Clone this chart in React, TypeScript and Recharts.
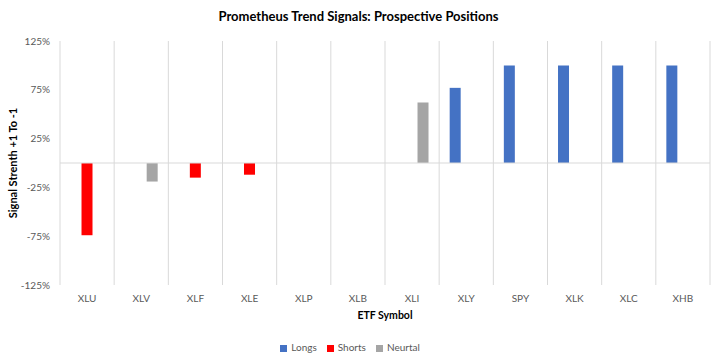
import React from 'react';
import {
  BarChart,
  Bar,
  XAxis,
  YAxis,
  CartesianGrid,
  ReferenceLine,
  Legend
} from 'recharts';

const categories = ['XLU', 'XLV', 'XLF', 'XLE', 'XLP', 'XLB', 'XLI', 'XLY', 'SPY', 'XLK', 'XLC', 'XHB'];
const longs = [null, null, null, null, null, null, null, 0.77, 1, 1, 1, 1];
const shorts = [-0.74, null, -0.15, -0.12, null, null, null, null, null, null, null, null];
const neutral = [null, -0.19, null, null, null, null, 0.62, null, null, null, null, null];
const yTicks = [-1.25, -0.75, -0.25, 0.25, 0.75, 1.25];

const FONT = 'Lato, "Open Sans", sans-serif';

export default function App() {
  const data = categories.map((name, i) => ({
    name,
    Longs: longs[i],
    Shorts: shorts[i],
    Neurtal: neutral[i]
  }));

  // grid lines sit on category boundaries, not centers
  const boundaries = ({ offset }: any) =>
    Array.from({ length: categories.length + 1 }, (_, i) => offset.left + (i * offset.width) / categories.length);

  const yLabel = (props: any) => {
    const vb = props.viewBox || {};
    const cx = 12;
    const cy = vb.y + vb.height / 2;
    return (
      <text
        x={cx}
        y={cy}
        transform={`rotate(-90, ${cx}, ${cy})`}
        textAnchor="middle"
        dominantBaseline="central"
        fontSize={11}
        fontWeight={700}
        fill="#000"
        fontFamily={FONT}
      >
        Signal Strenth +1 To -1
      </text>
    );
  };

  return (
    <div style={{ position: 'absolute', left: 0, top: 0, width: 717, height: 353, background: '#fff', fontFamily: FONT }}>
      <div
        style={{
          position: 'absolute',
          top: 8,
          left: 0,
          width: 717,
          textAlign: 'center',
          fontSize: 13,
          fontWeight: 700,
          color: '#000'
        }}
      >
        Prometheus Trend Signals: Prospective Positions
      </div>
      <BarChart
        width={717}
        height={353}
        data={data}
        margin={{ top: 41, right: 7, left: 0, bottom: 0 }}
        barCategoryGap="19.4%"
        barGap={0}
      >
        <CartesianGrid horizontal={false} stroke="#d9d9d9" verticalCoordinatesGenerator={boundaries} />
        <XAxis
          dataKey="name"
          height={56}
          tickLine={false}
          axisLine={false}
          interval={0}
          tickMargin={4}
          tick={{ fontSize: 10, fill: '#595959', fontFamily: FONT }}
          label={{ value: 'ETF Symbol', position: 'insideTop', offset: 27, fontSize: 10.5, fontWeight: 700, fill: '#000', fontFamily: FONT }}
        />
        <YAxis
          width={60}
          domain={[-1.25, 1.25]}
          ticks={yTicks}
          tickLine={false}
          axisLine={false}
          tickMargin={4}
          tickFormatter={(v: number) => `${Math.round(v * 100)}%`}
          tick={{ fontSize: 10, fill: '#595959', fontFamily: FONT }}
          label={{ content: yLabel }}
        />
        <ReferenceLine y={0} stroke="#d9d9d9" strokeWidth={1} />
        <Legend
          verticalAlign="bottom"
          iconType="square"
          iconSize={7}
          itemSorter={null as any}
          wrapperStyle={{ fontSize: 10, fontFamily: FONT, color: '#595959' }}
          formatter={(value: string) => <span style={{ color: '#595959' }}>{value}</span>}
        />
        <Bar dataKey="Longs" fill="#4472C4" isAnimationActive={false} />
        <Bar dataKey="Shorts" fill="#FF0000" isAnimationActive={false} />
        <Bar dataKey="Neurtal" fill="#A5A5A5" isAnimationActive={false} />
      </BarChart>
    </div>
  );
}
